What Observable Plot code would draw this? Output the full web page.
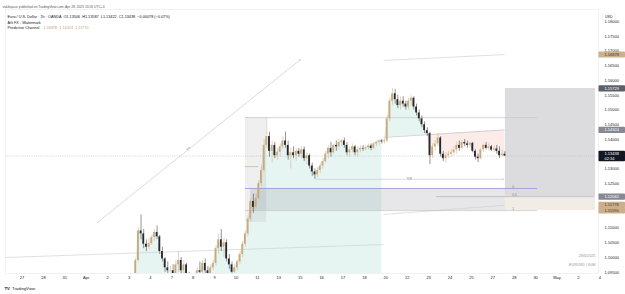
<!DOCTYPE html>
<html><head><meta charset="utf-8">
<script src="https://cdn.jsdelivr.net/npm/d3@7"></script>
<script src="https://cdn.jsdelivr.net/npm/@observablehq/plot@0.6"></script>
<style>body{margin:0;background:#fff;overflow:hidden}</style>
</head><body><div id="chart"></div>
<script>
// ---- time axis (trading days) ----
const axisDays = ["Mar 27","Mar 28","Mar 31","Apr 1","Apr 2","Apr 3","Apr 4","Apr 7","Apr 8","Apr 9","Apr 10","Apr 11","Apr 14","Apr 15","Apr 16","Apr 17","Apr 18","Apr 21","Apr 22","Apr 23","Apr 24","Apr 25","Apr 28","Apr 29","Apr 30","May 1","May 2","May 5"];
const axisLabels = ["27","28","31","Apr","2","3","4","7","8","9","10","11","13","15","16","17","18","20","22","23","24","25","27","28","30","May","2","4"];
const priceTicks = [1.095,1.100,1.105,1.110,1.125,1.130,1.140,1.145,1.150,1.155,1.160,1.165,1.170,1.175,1.180];

// ---- EUR/USD candles, 3-hour buckets ----
const candleDays = ["Apr 3","Apr 4","Apr 7","Apr 8","Apr 9","Apr 10","Apr 11","Apr 14","Apr 15","Apr 16","Apr 17","Apr 18","Apr 21","Apr 22","Apr 23","Apr 24","Apr 25","Apr 28"];
const firstOpen = 1.0855;
const closes = [
1.0890,1.0915,1.0990,1.1090,1.1080,1.1045,1.1035,1.1047,
1.1068,1.1085,1.1070,1.1020,1.0995,1.0965,1.0955,1.0955,
1.0930,1.0975,1.0990,1.0955,1.0975,1.0935,1.0915,1.0910,
1.0935,1.0955,1.0950,1.0980,1.0955,1.0940,1.0965,1.0980,
1.1030,1.1060,1.1035,1.1050,1.0995,1.0975,1.0950,1.0965,
1.0985,1.1010,1.1045,1.1080,1.1130,1.1190,1.1170,1.1200,
1.1250,1.1295,1.1380,1.1410,1.1360,1.1380,1.1345,1.1357,
1.1375,1.1395,1.1380,1.1345,1.1355,1.1345,1.1360,1.1350,
1.1365,1.1335,1.1345,1.1310,1.1290,1.1280,1.1295,1.1310,
1.1325,1.1350,1.1370,1.1355,1.1380,1.1375,1.1390,1.1395,
1.1380,1.1355,1.1365,1.1375,1.1355,1.1365,1.1370,1.1368,
1.1372,1.1378,1.1370,1.1385,1.1390,1.1395,1.1392,1.1395,
1.1470,1.1530,1.1555,1.1535,1.1515,1.1530,1.1520,1.1510,
1.1530,1.1540,1.1510,1.1490,1.1470,1.1450,1.1430,1.1420,
1.1345,1.1375,1.1385,1.1405,1.1350,1.1335,1.1345,1.1350,
1.1355,1.1365,1.1380,1.1370,1.1390,1.1385,1.1380,1.1387,
1.1360,1.1340,1.1335,1.1365,1.1380,1.1370,1.1375,1.1364,
1.1368,1.1360,1.1345,1.1350,1.13438];
const highs = [
1.0900,1.0925,1.0995,1.1100,1.1144,1.1095,1.1060,1.1065,
1.1075,1.1095,1.1107,1.1075,1.1035,1.1000,1.0985,1.0970,
1.0975,1.0990,1.1020,1.1000,1.0990,1.0980,1.0950,1.0935,
1.0945,1.0965,1.0985,1.0990,1.0995,1.0970,1.0975,1.0990,
1.1040,1.1080,1.1095,1.1065,1.1060,1.1010,1.0985,1.0975,
1.0990,1.1020,1.1055,1.1090,1.1140,1.1200,1.1215,1.1215,
1.1260,1.1310,1.1400,1.1474,1.1425,1.1395,1.1390,1.1370,
1.1385,1.1410,1.1425,1.1395,1.1370,1.1375,1.1370,1.1370,
1.1375,1.1375,1.1355,1.1350,1.1320,1.1300,1.1305,1.1320,
1.1335,1.1360,1.1380,1.1390,1.1385,1.1395,1.1400,1.1400,
1.1405,1.1390,1.1375,1.1385,1.1380,1.1375,1.1380,1.1380,
1.1380,1.1385,1.1385,1.1390,1.1395,1.1400,1.1400,1.1400,
1.1480,1.1540,1.1573,1.1570,1.1550,1.1545,1.1545,1.1530,
1.1540,1.1548,1.1545,1.1520,1.1500,1.1480,1.1460,1.1440,
1.1425,1.1385,1.1395,1.1420,1.1410,1.1360,1.1355,1.1360,
1.1365,1.1375,1.1390,1.1395,1.1395,1.1400,1.1395,1.1390,
1.1390,1.1365,1.1350,1.1370,1.1385,1.1390,1.1385,1.1380,
1.1375,1.1380,1.1375,1.1365,1.13587];
const lows = [
1.0850,1.0880,1.0915,1.0985,1.1060,1.1030,1.1020,1.1025,
1.1040,1.1055,1.1060,1.1010,1.0985,1.0950,1.0945,1.0950,
1.0890,1.0880,1.0950,1.0940,1.0925,1.0920,1.0905,1.0900,
1.0900,1.0925,1.0940,1.0935,1.0945,1.0920,1.0935,1.0955,
1.0970,1.1010,1.1020,1.1000,1.0985,1.0960,1.0940,1.0945,
1.0955,1.0975,1.1000,1.1035,1.1070,1.1120,1.1150,1.1165,
1.1195,1.1240,1.1290,1.1370,1.1340,1.1320,1.1335,1.1330,
1.1340,1.1365,1.1370,1.1330,1.1300,1.1335,1.1325,1.1340,
1.1335,1.1325,1.1315,1.1300,1.1275,1.1265,1.1270,1.1285,
1.1300,1.1320,1.1335,1.1340,1.1350,1.1360,1.1365,1.1375,
1.1370,1.1345,1.1340,1.1355,1.1345,1.1340,1.1355,1.1360,
1.1360,1.1365,1.1362,1.1365,1.1375,1.1380,1.1385,1.1385,
1.1390,1.1460,1.1515,1.1520,1.1505,1.1500,1.1510,1.1500,
1.1500,1.1515,1.1500,1.1480,1.1460,1.1440,1.1420,1.1410,
1.1315,1.1335,1.1360,1.1375,1.1340,1.1325,1.1320,1.1335,
1.1340,1.1345,1.1350,1.1360,1.1365,1.1375,1.1370,1.1370,
1.1355,1.1330,1.1322,1.1330,1.1355,1.1365,1.1360,1.1360,
1.1355,1.1350,1.1335,1.1340,1.13422];

// ---- Predictive Channel indicator ----
const channelX = [16.9, 22.55];
const channelUpper = [1.1668, 1.16878];
const channelMid = [1.1407, 1.14324];
const channelLower = [1.1146, 1.11770];
const oldMidX = [-0.77, 16.9];
const oldMid = [1.1000, 1.1044];

// ---- drawings ----
const trendX = [3.53, 13.01];
const trendY = [1.1119, 1.1671];
const trendLabel = "5%";
const rayX = [13.76, 22.5];
const rayPrice = 1.1265;
const rayLabel = "308";
const highLineX = [10.44, 24.09];
const highLinePrice = 1.1474;
const fibX = [10.44, 24.09];
const fibPrices = [1.1234, 1.12062, 1.1159];
const fibNames = ["0", "0.5", "1"];
const halfLineX = [19.37, 26.76];
const zoneX = [10.68, 22.83];
const bandX = [10.44, 11.43];
const bandY = [1.1119, 1.1474];
const tanTickX = [10.44, 11.05];
const tanTickPrice = 1.1308;
const boxX = [22.59, 26.8];
const boxTop = 1.15729;
const boxMid = 1.12062;
const boxBottom = 1.1159;

// ---- price-scale labels ----
const markerPrices = [1.16878, 1.15729, 1.14324, 1.13438, 1.12062, 1.11778, 1.11590];
const markerTexts = ["1.16878", "1.15729", "1.14324", "1.13438\n02:34", "1.12062", "1.11778", "1.11590"];
const markerKinds = ["tan", "dark", "gray", "last", "gray", "tan", "tan"];

const header1 = "vakilspace published on TradingView.com, Apr 28, 2025 13:26 UTC+3";
const header2 = "Euro / U.S. Dollar · 1h · OANDA  O1.13506  H1.13587  L1.13422  C1.13438  −0.00078 (−0.07%)";
const header3 = "AG FX - Watermark";
const header4 = "Predictive Channel";
const header4Values = "1.16878  1.14324  1.11770";
const watermarkDate = "28/4/2025";
const watermarkSymbol = "EURUSD | 60M";

// ---- build table ----
const bars = closes.map((c, i) => {
  const day = candleDays[Math.floor(i / 8)];
  const t = axisDays.indexOf(day) + ((i % 8) + 0.5) / 8;
  const open = i === 0 ? firstOpen : closes[i - 1];
  return {t, open, high: highs[i], low: lows[i], close: c};
});
const UP = "#c9aa7c", DOWN = "#26282e";
const col = d => d.close >= d.open ? UP : DOWN;
const lerp = (xs, ys) => t => ys[0] + (t - xs[0]) * (ys[1] - ys[0]) / (xs[1] - xs[0]);
const mid = lerp(channelX, channelMid);
const oldBars = bars.filter(d => d.t < channelX[0]);
const newBars = bars.filter(d => d.t >= channelX[0] - 0.07);
const seg = (xs, ys) => [{x1: xs[0], y1: ys[0], x2: xs[1], y2: ys[1]}];
const markers = markerPrices.map((p, i) => ({p, text: markerTexts[i], kind: markerKinds[i]}));

const plot = Plot.plot({
  width: 625, height: 294,
  marginTop: 9, marginBottom: 21, marginLeft: 5, marginRight: 27,
  x: {domain: [-0.771, 26.939], axis: null},
  y: {domain: [1.094576, 1.184068], axis: null},
  style: {fontFamily: "'Liberation Sans', Arial, sans-serif", fontSize: "4px", color: "#131722", background: "#fff", overflow: "visible"},
  marks: [
    Plot.frame({stroke: "#e0e3eb", strokeWidth: 0.5}),
    // fills of the Predictive Channel
    Plot.areaY(oldBars, {x: "t", y1: 1.09, y2: "close", fill: "#e7f5f2", clip: true}),
    Plot.areaY(newBars, {x: "t", y1: d => mid(d.t), y2: d => Math.max(d.close, mid(d.t)), fill: "#e7f5f2", clip: true}),
    Plot.areaY(newBars, {x: "t", y1: d => mid(d.t), y2: d => Math.min(d.close, mid(d.t)), fill: "#fbecea", clip: true}),
    // boxes
    Plot.rect([0], {x1: bandX[0], x2: bandX[1], y1: bandY[0], y2: bandY[1], fill: "#787b86", fillOpacity: 0.12}),
    Plot.rect([0], {x1: zoneX[0], x2: zoneX[1], y1: fibPrices[2], y2: fibPrices[0], fill: "#787b86", fillOpacity: 0.18}),
    Plot.rect([0], {x1: boxX[0], x2: boxX[1], y1: boxMid, y2: boxTop, fill: "#dcdcdf"}),
    Plot.rect([0], {x1: boxX[0], x2: boxX[1], y1: boxBottom, y2: boxMid, fill: "#f1ede6"}),
    // channel lines
    Plot.link(seg(oldMidX, oldMid), {x1: "x1", y1: "y1", x2: "x2", y2: "y2", stroke: "#c9cbd1", strokeWidth: 0.6, clip: true}),
    Plot.link(seg(channelX, channelUpper), {x1: "x1", y1: "y1", x2: "x2", y2: "y2", stroke: "#c9cbd1", strokeWidth: 0.6}),
    Plot.link(seg(channelX, channelMid), {x1: "x1", y1: "y1", x2: "x2", y2: "y2", stroke: "#b9bbc2", strokeWidth: 0.6}),
    Plot.link(seg(channelX, channelLower), {x1: "x1", y1: "y1", x2: "x2", y2: "y2", stroke: "#c9cbd1", strokeWidth: 0.6}),
    // horizontal drawings
    Plot.ruleY([highLinePrice], {x1: highLineX[0], x2: highLineX[1], stroke: "#c3c5cc", strokeWidth: 0.7}),
    Plot.ruleY([fibPrices[0]], {x1: fibX[0], x2: fibX[1], stroke: "#9d93dc", strokeWidth: 0.8}),
    Plot.ruleY([fibPrices[1]], {x1: halfLineX[0], x2: halfLineX[1], stroke: "#a3a5ad", strokeWidth: 0.6}),
    Plot.ruleY([fibPrices[2]], {x1: fibX[0], x2: fibX[1], stroke: "#b5b7be", strokeWidth: 0.6}),
    Plot.ruleY([tanTickPrice], {x1: tanTickX[0], x2: tanTickX[1], stroke: "#c9aa7c", strokeWidth: 0.7}),
    Plot.text(fibNames, {x: zoneX[1] + 0.08, y: (d, i) => fibPrices[i], text: d => d, textAnchor: "start", lineAnchor: "bottom", dy: -0.3, fontSize: 3.2, fill: "#787b86"}),
    // last price line
    Plot.ruleY([closes[closes.length - 1]], {stroke: "#b2b5be", strokeWidth: 0.5, strokeDasharray: "1.2,1"}),
    // trend line + ray
    Plot.arrow(seg(trendX, trendY), {x1: "x1", y1: "y1", x2: "x2", y2: "y2", stroke: "#c3c5cc", strokeWidth: 0.6, headLength: 4, clip: true}),
    Plot.text([trendLabel], {x: 7.78, y: 1.1369, text: d => d, rotate: -38.7, fontSize: 3.3, fill: "#787b86", stroke: "#fff", strokeWidth: 1.5}),
    Plot.arrow([{x1: rayX[0], x2: rayX[1], y: rayPrice}], {x1: "x1", y1: "y", x2: "x2", y2: "y", stroke: "#c3c5cc", strokeWidth: 0.6, headLength: 3}),
    Plot.text([rayLabel], {x: 18.1, y: rayPrice, text: d => d, fontSize: 3.3, fill: "#787b86", stroke: "#fff", strokeWidth: 2}),
    // candles
    Plot.ruleX(bars, {x: "t", y1: "low", y2: "high", stroke: col, strokeWidth: 0.5, clip: true}),
    Plot.rect(bars, {x1: d => d.t - 0.042, x2: d => d.t + 0.042, y1: "open", y2: d => Math.abs(d.close - d.open) < 0.00005 ? d.open + 0.00005 : d.close, fill: col, clip: true}),
    // axes
    Plot.axisY({anchor: "right", ticks: priceTicks, tickFormat: d => d.toFixed(5), tickSize: 0, tickPadding: 6, fontSize: 4, fill: "#131722"}),
    Plot.axisX({ticks: axisDays.map((d, i) => i), tickFormat: i => axisLabels[i], tickSize: 0, tickPadding: 3, fontSize: 4, fill: "#131722"}),
    // price-scale markers
    Plot.text(markers, {y: "p", text: "text", frameAnchor: "right", dx: 6, textAnchor: "start", fill: d => d.kind === "tan" ? "#3b3428" : "#ffffff", fontSize: 4, lineHeight: 1.1}),
    Plot.text(["USD"], {frameAnchor: "top-right", dx: 14, dy: 6, text: d => d, fontSize: 3.6, fill: "#131722"}),
    // legend / header
    Plot.text([header1], {frameAnchor: "top-left", dx: -3, dy: -4.3, text: d => d, textAnchor: "start", fontSize: 3.3, fill: "#50535e"}),
    Plot.text([header2], {frameAnchor: "top-left", dx: 2, dy: 6, text: d => d, textAnchor: "start", fontSize: 3.8, fill: "#131722"}),
    Plot.text([header3], {frameAnchor: "top-left", dx: 2, dy: 11.3, text: d => d, textAnchor: "start", fontSize: 3.8, fill: "#131722"}),
    Plot.text([header4], {frameAnchor: "top-left", dx: 2, dy: 16.5, text: d => d, textAnchor: "start", fontSize: 3.8, fill: "#131722"}),
    Plot.text([header4Values], {frameAnchor: "top-left", dx: 38, dy: 16.5, text: d => d, textAnchor: "start", fontSize: 3.8, fill: "#c4a574"}),
    Plot.text([watermarkDate], {frameAnchor: "bottom-right", dx: -3, dy: -17, text: d => d, textAnchor: "end", fontSize: 3.8, fill: "#9598a1"}),
    Plot.text([watermarkSymbol], {frameAnchor: "bottom-right", dx: -3, dy: -8, text: d => d, textAnchor: "end", fontSize: 3.8, fill: "#9598a1"}),
    Plot.text(["TV"], {frameAnchor: "bottom-left", dx: -1, dy: 16, text: d => d, textAnchor: "start", fontSize: 4.2, fontWeight: "bold", fill: "#131722"}),
    Plot.text(["TradingView"], {frameAnchor: "bottom-left", dx: 6.5, dy: 16, text: d => d, textAnchor: "start", fontSize: 4.2, fill: "#131722"})
  ]
});
document.getElementById("chart").append(plot);

// label boxes behind the price-scale markers
const bg = {tan: "#cdb089", dark: "#5d606b", gray: "#868993", last: "#131722"};
const want = new Map(markerTexts.map((t, i) => [t.replace("\n", ""), markerKinds[i]]));
const svgBox = plot.getBoundingClientRect();
d3.select(plot).selectAll("text").each(function () {
  const key = this.textContent;
  const r = this.getBoundingClientRect();
  const x = r.left - svgBox.left, y = r.top - svgBox.top;
  if (want.has(key) && x > 590) {
    const rect = document.createElementNS("http://www.w3.org/2000/svg", "rect");
    rect.setAttribute("x", 598.5); rect.setAttribute("width", 26.5);
    rect.setAttribute("y", y - 0.6); rect.setAttribute("height", r.height + 1.2);
    rect.setAttribute("rx", 0.8); rect.setAttribute("fill", bg[want.get(key)]);
    this.parentNode.parentNode.insertBefore(rect, this.parentNode);
  }
  if (key === "USD") {
    const rect = document.createElementNS("http://www.w3.org/2000/svg", "rect");
    rect.setAttribute("x", x - 2.5); rect.setAttribute("width", r.width + 5);
    rect.setAttribute("y", y - 1); rect.setAttribute("height", r.height + 2);
    rect.setAttribute("rx", 1); rect.setAttribute("fill", "#fff");
    rect.setAttribute("stroke", "#e0e3eb"); rect.setAttribute("stroke-width", 0.5);
    this.parentNode.parentNode.insertBefore(rect, this.parentNode);
  }
});
</script>
</body></html>
